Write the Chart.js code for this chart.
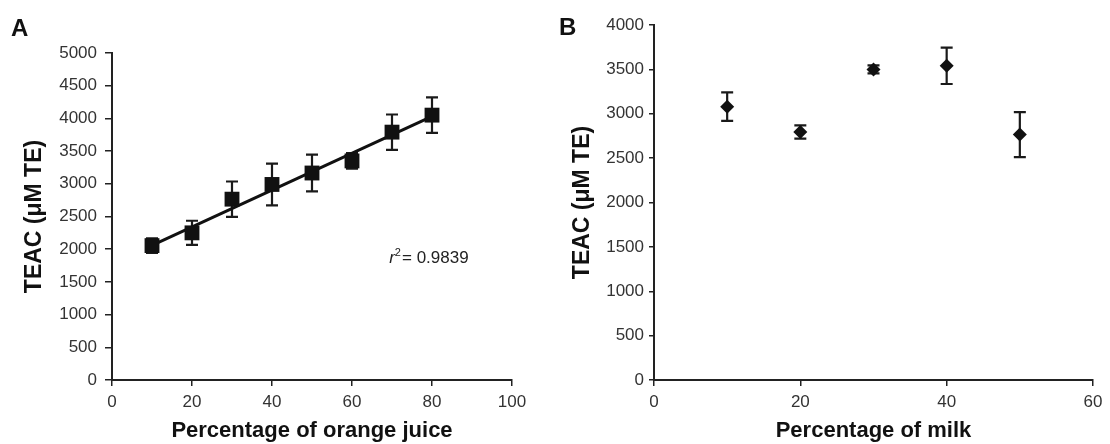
<!DOCTYPE html>
<html>
<head>
<meta charset="utf-8">
<script src="https://cdn.jsdelivr.net/npm/chart.js@4"></script>
<style>
  body { margin: 0; background: #fff; }
  #wrap { position: relative; width: 1110px; height: 444px; overflow: hidden; }
  canvas { position: absolute; top: 0; }
  .panel { position: absolute; font: bold 24px "Liberation Sans", Arial, sans-serif; color: #111; }
</style>
</head>
<body>
<div id="wrap">
  <canvas id="chartA" width="555" height="444" style="left:0"></canvas>
  <canvas id="chartB" width="555" height="444" style="left:555px"></canvas>
  <div class="panel" style="left:11px; top:14px">A</div>
  <div class="panel" style="left:559px; top:13px">B</div>
</div>
<script>
// orange juice dilutions
const ojPct = [10, 20, 30, 40, 50, 60, 70, 80];
const ojTeac = [2055, 2250, 2765, 2990, 3165, 3350, 3790, 4050];
const ojErr = [110, 185, 270, 320, 280, 120, 270, 270];
// least squares line drawn over the juice points
const fitX = [10, 80];
const fitY = [2060, 4030];
const fitLabel = "0.9839";

// milk dilutions
const milkPct = [10, 20, 30, 40, 50];
const milkTeac = [3080, 2795, 3500, 3540, 2765];
const milkErr = [160, 75, 45, 205, 253];

const FONT = '"Liberation Sans", Arial, Helvetica, sans-serif';

// vertical error bars with caps, drawn under the markers
const errorBars = {
  id: 'errorBars',
  beforeDatasetsDraw(chart) {
    const ctx = chart.ctx;
    const y = chart.scales.y;
    chart.data.datasets.forEach((ds, i) => {
      if (!ds.errors) return;
      const cap = ds.capHalf || 6;
      chart.getDatasetMeta(i).data.forEach((pt, j) => {
        const v = ds.data[j].y, e = ds.errors[j];
        const top = y.getPixelForValue(v + e);
        const bot = y.getPixelForValue(v - e);
        ctx.save();
        ctx.strokeStyle = '#1a1a1a';
        ctx.lineWidth = 2.2;
        ctx.beginPath();
        ctx.moveTo(pt.x, top); ctx.lineTo(pt.x, bot);
        ctx.moveTo(pt.x - cap, top); ctx.lineTo(pt.x + cap, top);
        ctx.moveTo(pt.x - cap, bot); ctx.lineTo(pt.x + cap, bot);
        ctx.stroke();
        ctx.restore();
      });
    });
  }
};

// r² note next to the fitted line
const rSquared = {
  id: 'rSquared',
  afterDraw(chart, args, opts) {
    if (!opts.text) return;
    const ctx = chart.ctx;
    let x = chart.scales.x.getPixelForValue(opts.x);
    const y = chart.scales.y.getPixelForValue(opts.y);
    ctx.save();
    ctx.fillStyle = '#222';
    ctx.textBaseline = 'middle';
    ctx.textAlign = 'left';
    ctx.font = 'italic 17px ' + FONT;
    ctx.fillText('r', x, y);
    x += ctx.measureText('r').width;
    ctx.font = '11px ' + FONT;
    ctx.fillText('2', x, y - 5);
    x += ctx.measureText('2').width + 1;
    ctx.font = '17px ' + FONT;
    ctx.fillText('= ' + opts.text, x, y);
    ctx.restore();
  }
};

function scaleOpts(max, step, title, yWidth, titleOffset, tick, pad) {
  const tickFont = { family: FONT, size: 17 };
  const xTitleFont = { family: FONT, size: 22, weight: 'bold' };
  const yTitleFont = { family: FONT, size: 23, weight: 'bold' };
  const plain = (v) => String(v);
  return {
    x: {
      type: 'linear', min: 0, max: max[0],
      afterFit: (s) => { s.height = 64; },
      border: { display: true, color: '#222', width: 2 },
      grid: { drawOnChartArea: false, drawTicks: true, tickLength: 6, color: '#222', lineWidth: 1.5 },
      ticks: { stepSize: step[0], color: '#333', font: tickFont, padding: 6, maxRotation: 0, callback: plain },
      title: { display: true, text: title[0], color: '#111', font: xTitleFont, padding: { top: 0, bottom: 0 } }
    },
    y: {
      type: 'linear', min: 0, max: max[1],
      afterFit: (s) => { s.width = yWidth; },
      border: { display: true, color: '#222', width: 2 },
      grid: { drawOnChartArea: false, drawTicks: true, tickLength: tick, color: '#222', lineWidth: 1.5 },
      ticks: { stepSize: step[1], color: '#333', font: tickFont, padding: pad, callback: plain },
      title: { display: true, text: title[1], color: '#111', font: yTitleFont, padding: { top: titleOffset, bottom: 0 } }
    }
  };
}

new Chart(document.getElementById('chartA'), {
  type: 'scatter',
  data: {
    datasets: [
      {
        data: ojPct.map((x, i) => ({ x: x, y: ojTeac[i] })),
        errors: ojErr,
        capHalf: 6,
        pointStyle: 'rect',
        pointRadius: 10.5,
        backgroundColor: '#111',
        borderColor: '#111',
        borderWidth: 0
      },
      {
        data: fitX.map((x, i) => ({ x: x, y: fitY[i] })),
        showLine: true,
        borderColor: '#111',
        borderWidth: 3,
        pointRadius: 0
      }
    ]
  },
  options: {
    responsive: false,
    animation: false,
    layout: { padding: { left: 0, top: 53, right: 43, bottom: 0 } },
    plugins: {
      legend: { display: false },
      tooltip: { enabled: false },
      rSquared: { text: fitLabel, x: 69.3, y: 1860 }
    },
    scales: scaleOpts([100, 5000], [20, 500],
      ['Percentage of orange juice', 'TEAC (μM TE)'], 112, 21, 7, 8)
  },
  plugins: [errorBars, rSquared]
});

new Chart(document.getElementById('chartB'), {
  type: 'scatter',
  data: {
    datasets: [
      {
        data: milkPct.map((x, i) => ({ x: x, y: milkTeac[i] })),
        errors: milkErr,
        capHalf: 6,
        pointStyle: 'rectRot',
        pointRadius: 7,
        backgroundColor: '#111',
        borderColor: '#111',
        borderWidth: 0
      }
    ]
  },
  options: {
    responsive: false,
    animation: false,
    layout: { padding: { left: 0, top: 25, right: 17, bottom: 0 } },
    plugins: {
      legend: { display: false },
      tooltip: { enabled: false }
    },
    scales: scaleOpts([60, 4000], [20, 500],
      ['Percentage of milk', 'TEAC (μM TE)'], 99, 14, 5, 5)
  },
  plugins: [errorBars]
});
</script>
</body>
</html>
